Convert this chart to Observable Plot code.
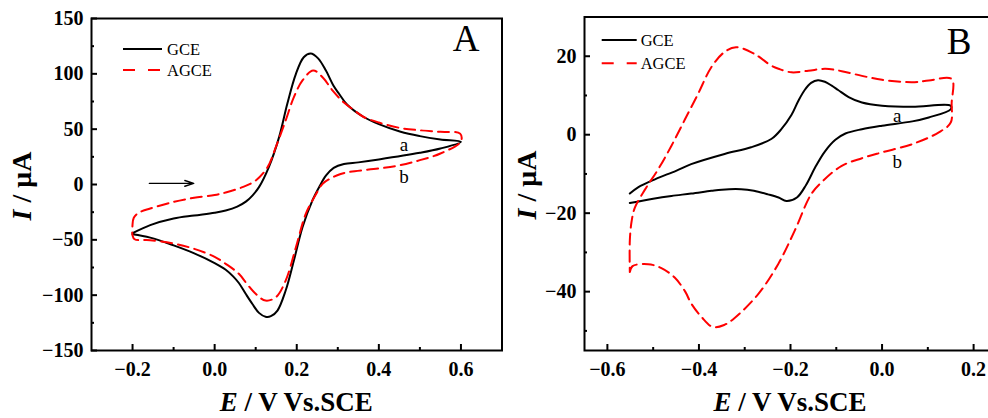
<!DOCTYPE html>
<html>
<head>
<meta charset="utf-8">
<script src="https://cdn.jsdelivr.net/npm/d3@7"></script>
<script src="https://cdn.jsdelivr.net/npm/@observablehq/plot@0.6"></script>
<style>
  html, body { margin: 0; padding: 0; background: #fff; }
  #wrap { position: relative; width: 988px; height: 418px; overflow: hidden; background: #fff; }
  #wrap svg { position: absolute; top: 0; max-width: none !important; font-family: 'Liberation Serif', 'Times New Roman', serif !important; }
  #wrap svg text { font-family: 'Liberation Serif', 'Times New Roman', serif; }
</style>
</head>
<body>
<div id="wrap"></div>
<script>
// ---------- Panel A data (E / V, I / µA) ----------
const aGceE = [-0.2,-0.157,-0.1,-0.05,0,0.027,0.055,0.076,0.092,0.108,0.132,0.157,0.177,0.198,0.217,0.234,0.252,0.271,0.29,0.303,0.323,0.363,0.4,0.453,0.5,0.55,0.6,
  0.55,0.5,0.4,0.35,0.315,0.29,0.271,0.255,0.238,0.214,0.193,0.173,0.153,0.137,0.124,0.108,0.092,0.076,0.059,0.045,0.027,0,-0.051,-0.1,-0.157,-0.2];
const aGceI = [-44,-36.7,-30.7,-28,-25.5,-23.5,-20,-15.5,-10,-2.4,15.7,42.8,73,100,115,118.4,114,103,89,82,72,61,54.5,47.6,43.7,40.7,38.5,
  32.5,28.6,22.6,20,18.5,15,8,-2,-14.5,-38.6,-68.7,-95.8,-113.9,-119,-119.5,-116,-108,-99,-89,-83,-77,-71,-62,-55,-48,-45];

const aAgceE = [-0.2,-0.197,-0.185,-0.157,-0.1,-0.05,0,0.027,0.068,0.1,0.129,0.149,0.173,0.193,0.214,0.24,0.265,0.287,0.315,0.34,0.363,0.4,0.453,0.5,0.55,0.598,0.6,
  0.55,0.5,0.453,0.4,0.33,0.307,0.285,0.263,0.245,0.222,0.198,0.173,0.149,0.124,0.1,0.079,0.059,0.027,0,-0.051,-0.1,-0.157,-0.195,-0.2,-0.2];
const aAgceI = [-36,-30,-25.5,-21.7,-15.7,-12,-9.5,-7.2,-2.4,3.6,15.7,33.7,57.9,79,94,103,96,85,74,67,61,56,51,49,47.6,46,39,
  28,22,17.5,14.5,11.5,9.5,6,0.6,-10,-26.5,-56.7,-86.8,-101.9,-104.9,-98.8,-90,-80.7,-71.7,-65.4,-58,-53.3,-50.3,-49.5,-46,-36];

// ---------- Panel B data ----------
const bGceE = [-0.551,-0.533,-0.495,-0.45,-0.417,-0.344,-0.286,-0.242,-0.22,-0.198,-0.183,-0.169,-0.155,-0.14,-0.125,-0.11,-0.096,-0.073,-0.044,0,0.066,0.15,
  0.15,0.102,0.066,0,-0.044,-0.08,-0.102,-0.125,-0.146,-0.166,-0.186,-0.209,-0.226,-0.249,-0.28,-0.308,-0.35,-0.373,-0.417,-0.46,-0.5,-0.551];
const bGceI = [-15,-13.4,-11.3,-9.2,-7.5,-4.9,-3.2,-1.1,1.4,5,8.6,11.4,13.2,13.9,13.5,12.5,11.4,9.6,8.2,7.4,7.1,7.4,
  6.5,4.4,3.4,2.3,1.4,0.3,-1.3,-4.3,-8.3,-12.8,-16,-16.9,-16,-15.2,-14.3,-13.9,-14,-14.3,-15,-15.6,-16.3,-17.4];

const bAgceE = [-0.551,-0.545,-0.511,-0.482,-0.453,-0.43,-0.417,-0.394,-0.37,-0.345,-0.322,-0.271,-0.227,-0.191,-0.155,-0.131,-0.089,-0.044,0,0.066,0.124,0.15,0.152,
  0.152,0.102,0.066,0,-0.044,-0.088,-0.124,-0.161,-0.198,-0.226,-0.242,-0.279,-0.319,-0.345,-0.373,-0.402,-0.431,-0.46,-0.489,-0.518,-0.54,-0.547,-0.551,-0.551];
const bAgceI = [-35,-33.5,-33,-34,-36.4,-40,-43,-46.5,-49,-48.5,-46.7,-40.7,-33,-24.5,-15.2,-12,-8,-6,-4.5,-2.4,0.6,3.1,8,
  14.2,13.8,13.4,14,15,16.2,16.8,16.3,15.9,16.8,17.6,20.6,22.3,21,17.2,10.4,3.8,-2.8,-8.8,-14,-18.6,-22,-27,-35];

// ---------- Ticks ----------
const aXMajor = [-0.2, 0, 0.2, 0.4, 0.6];
const aXMinor = [-0.1, 0.1, 0.3, 0.5];
const aYMajor = [-150, -100, -50, 0, 50, 100, 150];
const aYMinor = [-125, -75, -25, 25, 75, 125];
const bXMajor = [-0.6, -0.4, -0.2, 0, 0.2];
const bXMinor = [-0.5, -0.3, -0.1, 0.1];
const bYMajor = [-40, -20, 0, 20];
const bYMinor = [-50, -30, -10, 10];

// ---------- Annotations ----------
const seriesNames = ["GCE", "AGCE"];
const aCurveLabels = [{E: 0.461, I: 30.7, t: "a"}, {E: 0.461, I: 1.8, t: "b"}];
const bCurveLabels = [{E: 0.033, I: 3.3, t: "a"}, {E: 0.033, I: -8.4, t: "b"}];
const aArrow = [{E1: -0.159, E2: -0.051, I: 1}];

const zipEI = (E, I) => E.map((e, i) => ({E: e, I: I[i]}));
const FONT = "'Liberation Serif', 'Times New Roman', serif";

function panel(opts) {
  const marks = [
    Plot.line(zipEI(opts.gceE, opts.gceI), {x: "E", y: "I", curve: "catmull-rom", stroke: "#000", strokeWidth: 2}),
    Plot.line(zipEI(opts.agceE, opts.agceI), {x: "E", y: "I", curve: "catmull-rom", stroke: "#ff0000", strokeWidth: 2, strokeDasharray: "11,6"}),
    Plot.frame({stroke: "#000", strokeWidth: 2}),
    Plot.axisX({ticks: opts.xMajor, tickSize: -6, strokeWidth: 2, text: null, label: null}),
    Plot.axisX({ticks: opts.xMinor, tickSize: -3, strokeWidth: 2, text: null, label: null}),
    Plot.axisX({ticks: opts.xMajor, tickSize: 0, tickPadding: 11, tickFormat: d3.format(".1f"), label: null, fontWeight: "bold"}),
    Plot.axisY({ticks: opts.yMajor, tickSize: -6, strokeWidth: 2, text: null, label: null}),
    Plot.axisY({ticks: opts.yMinor, tickSize: -3, strokeWidth: 2, text: null, label: null}),
    Plot.axisY({ticks: opts.yMajor, tickSize: 0, tickPadding: 8, tickFormat: d3.format("d"), label: null, fontWeight: "bold"}),
    Plot.text(opts.curveLabels, {x: "E", y: "I", text: "t", lineAnchor: "bottom", textAnchor: "middle", fontSize: 19, fontWeight: "normal", fill: "#000"}),
    Plot.text([opts.panelLabel], {frameAnchor: "top-right", text: d => d, dx: opts.plDx, dy: opts.plDy, lineAnchor: "bottom", textAnchor: "end", fontSize: 37, fontWeight: "normal", fill: "#000"})
  ];
  if (opts.arrow) {
    marks.push(Plot.arrow(opts.arrow, {x1: "E1", x2: "E2", y1: "I", y2: "I", stroke: "#000", strokeWidth: 1.4, headLength: 10, headAngle: 36}));
  }
  const svg = Plot.plot({
    width: opts.width, height: 418,
    marginLeft: opts.ml, marginRight: opts.mr, marginTop: opts.mt, marginBottom: 68,
    x: {domain: opts.xDomain},
    y: {domain: opts.yDomain},
    style: {fontFamily: FONT, fontSize: "20px", fontWeight: "bold", color: "#000", background: "transparent", overflow: "visible"},
    marks
  });
  const s = d3.select(svg);
  // axis titles
  const xt = s.append("text").attr("x", (opts.ml + opts.width - opts.mr) / 2).attr("y", 411)
    .attr("text-anchor", "middle").attr("font-family", FONT).attr("font-size", 27).attr("font-weight", "bold").attr("fill", "#000");
  xt.append("tspan").attr("font-style", "italic").text("E");
  xt.append("tspan").text(" / V Vs.SCE");
  const yt = s.append("text").attr("transform", `translate(${opts.yTitleX},${opts.yTitleY}) rotate(-90)`)
    .attr("text-anchor", "middle").attr("font-family", FONT).attr("font-size", 28).attr("font-weight", "bold").attr("fill", "#000");
  yt.append("tspan").attr("font-style", "italic").text("I");
  yt.append("tspan").text(" / \u03bcA");
  // legend
  const lg = s.append("g").attr("font-family", FONT).attr("font-size", 16.5).attr("font-weight", "normal").attr("fill", "#000").attr("text-anchor", "start");
  const L = opts.legend;
  lg.append("line").attr("x1", L.x1).attr("x2", L.x2).attr("y1", L.y[0]).attr("y2", L.y[0]).attr("stroke", "#000").attr("stroke-width", 2);
  lg.append("line").attr("x1", L.x1).attr("x2", L.x2).attr("y1", L.y[1]).attr("y2", L.y[1]).attr("stroke", "#ff0000").attr("stroke-width", 2).attr("stroke-dasharray", "12,13");
  seriesNames.forEach((n, i) => {
    lg.append("text").attr("x", L.tx).attr("y", L.y[i] + 6).attr("text-anchor", "start").text(n);
  });
  svg.style.left = opts.left + "px";
  return svg;
}

const wrap = document.getElementById("wrap");
wrap.appendChild(panel({
  left: 0, width: 506, ml: 91, mr: 4.5, mt: 18,
  xDomain: [-0.3, 0.7], yDomain: [-150, 150],
  gceE: aGceE, gceI: aGceI, agceE: aAgceE, agceI: aAgceI,
  xMajor: aXMajor, xMinor: aXMinor, yMajor: aYMajor, yMinor: aYMinor,
  curveLabels: aCurveLabels, panelLabel: "A", plDx: -22.5, plDy: 32,
  arrow: aArrow,
  yTitleX: 31, yTitleY: 186,
  legend: {x1: 123, x2: 162, tx: 167, y: [49, 70]}
}));
wrap.appendChild(panel({
  left: 506, width: 500, ml: 78, mr: 10, mt: 16.5,
  xDomain: [-0.65, 0.25], yDomain: [-55, 30],
  gceE: bGceE, gceI: bGceI, agceE: bAgceE, agceI: bAgceI,
  xMajor: bXMajor, xMinor: bXMinor, yMajor: bYMajor, yMinor: bYMinor,
  curveLabels: bCurveLabels, panelLabel: "B", plDx: -25, plDy: 36.5,
  arrow: null,
  yTitleX: 30, yTitleY: 185,
  legend: {x1: 95.7, x2: 130.7, tx: 134.7, y: [40, 63.3]}
}));
</script>
</body>
</html>
